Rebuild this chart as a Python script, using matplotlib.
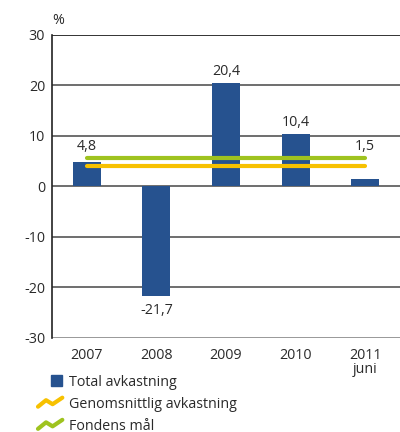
import matplotlib
matplotlib.use("Agg")
import matplotlib.pyplot as plt
from matplotlib.legend_handler import HandlerBase
from matplotlib.lines import Line2D
from matplotlib.patches import Rectangle

plt.rcParams['font.family'] = ['Open Sans', 'DejaVu Sans']

years = ["2007", "2008", "2009", "2010", "2011\njuni"]
total = [4.8, -21.7, 20.4, 10.4, 1.5]
labels = ["4,8", "-21,7", "20,4", "10,4", "1,5"]
avg_return = 4.0
target = 5.6
yticks = [-30, -20, -10, 0, 10, 20, 30]

blue = "#26528f"
yellow = "#f7c100"
green = "#9fc31f"
txt = "#2a2a2a"
fs = 10.3

fig = plt.figure(figsize=(4.0, 4.32), dpi=100)
ax = fig.add_axes([0.13, 0.2176, 0.87, 0.7014])

x = list(range(len(years)))
ax.bar(x, total, width=0.4, color=blue, zorder=3)
ax.plot([x[0], x[-1]], [target, target], color=green, lw=3, solid_capstyle='round', zorder=4)
ax.plot([x[0], x[-1]], [avg_return, avg_return], color=yellow, lw=3, solid_capstyle='round', zorder=4)

for i, (v, lab) in enumerate(zip(total, labels)):
    if v < 0:
        ax.text(i, v - 2.9, lab, ha='center', va='center', fontsize=fs, color=txt)
    else:
        yy = max(v, target) + 2.3
        ax.text(i, yy, lab, ha='center', va='center', fontsize=fs, color=txt)

ax.set_xlim(-0.5, 4.5)
ax.set_ylim(-30, 30)
ax.set_yticks(yticks)
ax.set_yticklabels([str(t) for t in yticks], fontsize=fs, color=txt)
ax.set_xticks(x)
ax.set_xticklabels(years, fontsize=fs, color=txt, linespacing=0.95)
ax.tick_params(axis='both', length=0, pad=5)
ax.tick_params(axis='x', pad=7)

for t in yticks:
    if t == 30:
        col = "#111111"
    elif t == -30:
        col = "#888888"
    else:
        col = "#555555"
    ax.axhline(t, color=col, lw=1.2, zorder=1)

for s in ['top', 'right', 'bottom']:
    ax.spines[s].set_visible(False)
ax.spines['left'].set_color("#222222")
ax.spines['left'].set_linewidth(1.2)

fig.text(0.13, 0.935, "%", fontsize=fs, color=txt, ha='left', va='bottom')


class ZigZag(HandlerBase):
    def __init__(self, color):
        super().__init__()
        self.color = color

    def create_artists(self, legend, orig_handle, xdescent, ydescent, width, height, fontsize, trans):
        xs = [0.0, width * 0.33, width * 0.6, width * 1.0]
        ys = [height * 0.1, height * 0.75, height * 0.35, height * 1.0]
        l = Line2D(xs, ys, color=self.color, lw=3, solid_capstyle='round', solid_joinstyle='round', transform=trans)
        return [l]


class Square(HandlerBase):
    def create_artists(self, legend, orig_handle, xdescent, ydescent, width, height, fontsize, trans):
        s = 11 * 72 / 100.0
        r = Rectangle((width - s, (height - s) / 2), s, s, color=blue, transform=trans)
        return [r]


h1 = Rectangle((0, 0), 1, 1, color=blue)
h2 = Line2D([], [], color=yellow)
h3 = Line2D([], [], color=green)
leg = fig.legend([h1, h2, h3], ["Total avkastning", "Genomsnittlig avkastning", "Fondens mål"],
                 handler_map={h1: Square(), h2: ZigZag(yellow), h3: ZigZag(green)},
                 loc='upper left', bbox_to_anchor=(0.095, 0.133), frameon=False,
                 fontsize=fs, handlelength=1.7, handletextpad=0.5, labelspacing=0.5,
                 borderpad=0, borderaxespad=0)
for t in leg.get_texts():
    t.set_color(txt)

fig.savefig("out.png", dpi=100)
